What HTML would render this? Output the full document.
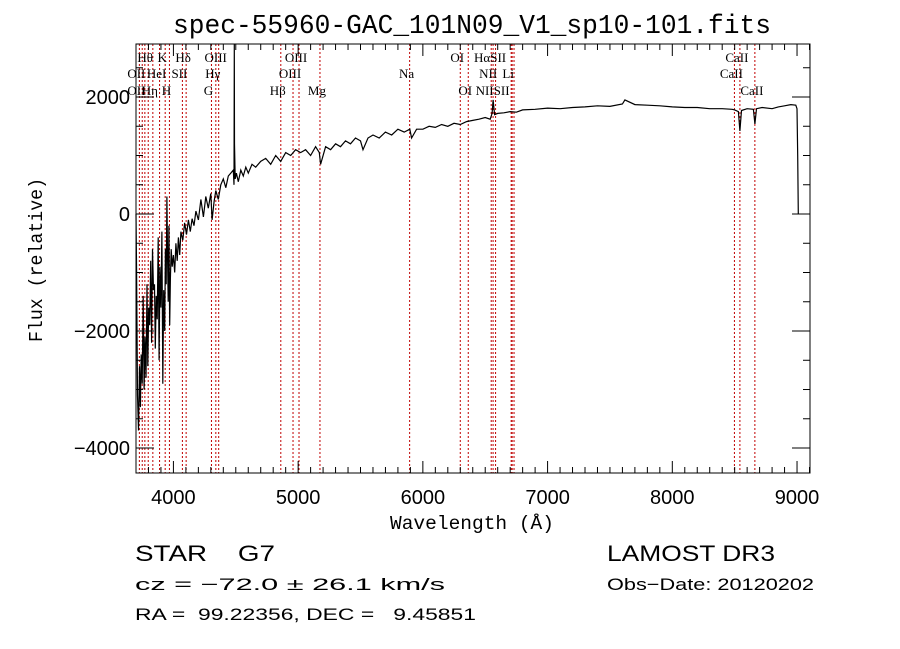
<!DOCTYPE html>
<html><head><meta charset="utf-8"><style>
html,body{margin:0;padding:0;background:#fff;}
svg{display:block;}
text{font-family:"Liberation Sans",sans-serif;fill:#000;white-space:pre;}
.mono{font-family:"Liberation Mono",monospace;}
.serif{font-family:"Liberation Serif",serif;}
</style></head><body>
<svg id="chart" width="900" height="649" viewBox="0 0 900 649">
<rect width="900" height="649" fill="#fff"/>
<text class="mono" x="472" y="33" font-size="27" text-anchor="middle" textLength="598" lengthAdjust="spacingAndGlyphs">spec-55960-GAC_101N09_V1_sp10-101.fits</text>
<g id="lines"></g>
<g id="labels"></g>
<path id="spec" fill="none" stroke="#000" stroke-width="1.2"/>
<g id="axes"></g>
<rect x="136" y="44" width="674" height="429" fill="none" stroke="#000" stroke-width="1"/>
<text class="mono" x="472" y="529" font-size="19" text-anchor="middle" textLength="164" lengthAdjust="spacingAndGlyphs">Wavelength (Å)</text>
<text class="mono" transform="translate(42,260) rotate(-90)" font-size="19" text-anchor="middle" textLength="164" lengthAdjust="spacingAndGlyphs">Flux (relative)</text>
<text x="135" y="561" font-size="22" textLength="140" lengthAdjust="spacingAndGlyphs" xml:space="preserve">STAR    G7</text>
<text x="607" y="561" font-size="22" textLength="168" lengthAdjust="spacingAndGlyphs">LAMOST DR3</text>
<text x="135" y="590" font-size="17" textLength="310" lengthAdjust="spacingAndGlyphs">cz = −72.0 ± 26.1 km/s</text>
<text x="607" y="590" font-size="17" textLength="207" lengthAdjust="spacingAndGlyphs">Obs−Date: 20120202</text>
<text x="135" y="620" font-size="17" textLength="341" lengthAdjust="spacingAndGlyphs" xml:space="preserve">RA =  99.22356, DEC =   9.45851</text>
</svg>
<script>
const xTicks=[4000,5000,6000,7000,8000,9000];
const yTicks=[-4000,-2000,0,2000];
const lineWl=[3727,3750,3771,3798,3835,3889,3934,3968,4072,4102,4305,4340,4363,4861,4959,5007,5175,5894,6300,6364,6548,6563,6583,6708,6716,6731,8498,8542,8662];
const labelText=["Hθ","K","Hδ","OIII","OIII","OI","HαSII","CaII","OII","HeI","SII","Hγ","OIII","Na","NII","Li","CaII","OII","Hη","H","G","Hβ","Mg","OI","NIISII","CaII"];
const labelWl=[3798,3934,4102,4363,5007,6300,6563,8542,3727,3889,4072,4340,4959,5894,6548,6708,8498,3727,3835,3968,4305,4861,5175,6364,6583,8662];
const labelRow=[0,0,0,0,0,0,0,0,1,1,1,1,1,1,1,1,1,2,2,2,2,2,2,2,2,2];
const specWl=[3700,3705,3712,3720,3728,3735,3742,3750,3758,3765,3772,3780,3788,3795,3802,3810,3818,3825,3832,3840,3848,3855,3862,3870,3878,3885,3892,3900,3908,3915,3922,3930,3936,3942,3948,3953,3958,3964,3970,3976,3982,3990,4000,4010,4020,4030,4040,4050,4060,4075,4090,4105,4120,4135,4150,4165,4180,4200,4220,4240,4260,4280,4300,4310,4325,4340,4360,4380,4400,4420,4440,4460,4480,
4486,4488,4490,4495,4505,4520,4540,4560,4580,4600,4630,4660,4700,4740,4780,4820,4860,4900,4940,4980,5020,5060,5100,5140,5170,5180,5220,5260,5300,5340,5380,5420,5460,5500,5520,5560,5600,5650,5700,5750,5800,5850,5895,5910,5950,6000,6050,6100,6150,6200,6250,6300,6350,6400,6450,6500,6540,6555,6563,6575,6600,6650,6700,6750,6800,6900,7000,7100,7200,7300,7400,7500,7600,7620,7700,7800,7900,8000,8100,8200,8300,8400,8480,8500,8530,8542,8555,8600,8650,8662,8675,8720,8800,8850,8900,8950,8990,9000,9005,9010];
const specFlux=[0,-1000,-3100,-3700,-2600,-3300,-2400,-2900,-1400,-3000,-2100,-2800,-1200,-2600,-1600,-1900,-800,-2200,-600,-1300,-1200,-2300,-1400,-1800,-400,-2500,-900,-1600,-300,-2900,-1300,-2000,-600,-1200,300,-800,-1500,-200,-1900,-1100,-600,-900,-700,-1000,-500,-800,-400,-700,-300,-450,-150,-350,-100,-300,-80,-200,50,-100,250,-50,300,100,350,-100,200,400,250,500,600,450,650,700,750,
500,2900,1200,600,700,550,750,650,800,700,850,800,900,950,850,1000,900,1050,1000,1100,1050,1100,1000,1150,1050,850,1150,1100,1200,1150,1250,1200,1300,1250,1100,1300,1350,1300,1400,1350,1450,1400,1450,1300,1450,1450,1500,1480,1530,1500,1550,1530,1580,1600,1620,1650,1620,1720,1950,1700,1720,1730,1750,1740,1780,1790,1810,1800,1820,1830,1850,1840,1880,1950,1870,1860,1850,1830,1820,1820,1800,1800,1790,1780,1750,1420,1770,1800,1790,1540,1800,1820,1800,1830,1850,1870,1860,1800,1000,0];
const X0=3700,X1=9104,Y0=-4427,Y1=2906,L=136,R=810,T=44,B=473;
const sx=w=>L+(w-X0)/(X1-X0)*(R-L);
const sy=f=>B-(f-Y0)/(Y1-Y0)*(B-T);
const ns='http://www.w3.org/2000/svg';
function mk(tag,attrs,parent){const e=document.createElementNS(ns,tag);for(const k in attrs)e.setAttribute(k,attrs[k]);parent.appendChild(e);return e;}
const gl=document.getElementById('lines');
lineWl.forEach(w=>{const l=mk('line',{x1:sx(w),x2:sx(w),y1:T,y2:B,stroke:'#c00000','stroke-width':1,'stroke-dasharray':'2,2'},gl);

});
const glab=document.getElementById('labels');
const rowY=[62,78,95];
labelText.forEach((t,i)=>{const e=mk('text',{x:sx(labelWl[i])-3,y:rowY[labelRow[i]],'font-size':13,'text-anchor':'middle',class:'serif'},glab);e.textContent=t;

});
let d='';specWl.forEach((w,i)=>{d+=(i?'L':'M')+sx(w).toFixed(1)+','+sy(specFlux[i]).toFixed(1);});
document.getElementById('spec').setAttribute('d',d);
const ga=document.getElementById('axes');
for(let w=3800;w<=9100;w+=100){const major=w%1000===0;const h=major?12:6;
const a=mk('line',{x1:sx(w),x2:sx(w),y1:B,y2:B-h,stroke:'#000'},ga);
const b=mk('line',{x1:sx(w),x2:sx(w),y1:T,y2:T+h,stroke:'#000'},ga);}
xTicks.forEach(w=>{const t=mk('text',{x:sx(w),y:B+31,'font-size':20,'text-anchor':'middle'},ga);t.textContent=w;

});
for(let f=-4000;f<=2500;f+=500){const major=f%2000===0;const h=major?18:7;
const a=mk('line',{x1:L,x2:L+h,y1:sy(f),y2:sy(f),stroke:'#000'},ga);
const b=mk('line',{x1:R,x2:R-h,y1:sy(f),y2:sy(f),stroke:'#000'},ga);}
yTicks.forEach(f=>{const t=mk('text',{x:L-6,y:sy(f)+7,'font-size':20,'text-anchor':'end'},ga);t.textContent=(f<0?'−':'')+Math.abs(f);

});
</script>
</body></html>
